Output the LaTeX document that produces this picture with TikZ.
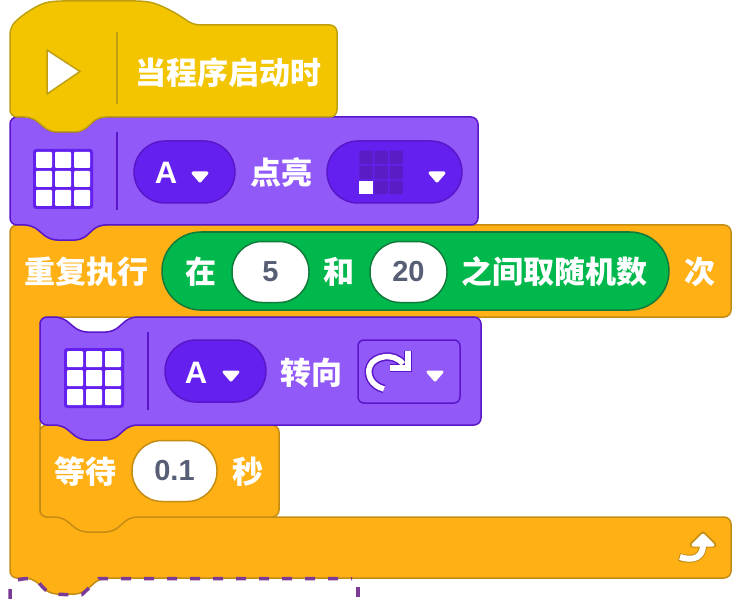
\documentclass[tikz,border=0pt]{standalone}
\usepackage{fontspec}
\setmainfont{Noto Sans CJK SC}
\newfontfamily\latinfont{Liberation Sans}
\definecolor{hatfill}{HTML}{F2C500}
\definecolor{hatedge}{HTML}{BFA010}
\definecolor{lookfill}{HTML}{9159F8}
\definecolor{lookedge}{HTML}{5A17C9}
\definecolor{pillfill}{HTML}{6420EE}
\definecolor{cellfill}{HTML}{5A1CC4}
\definecolor{ctrlfill}{HTML}{FFB015}
\definecolor{ctrledge}{HTML}{C48C12}
\definecolor{opfill}{HTML}{00B84C}
\definecolor{opedge}{HTML}{127A3A}
\definecolor{numtext}{HTML}{575E75}
\definecolor{ghost}{HTML}{7B3A96}

\begin{document}
\begin{tikzpicture}[x=1pt,y=-1pt,
        block/.style = {line width=1.5pt,rounded corners=7pt},
        hatblock/.style = {block,fill=hatfill,draw=hatedge},
        lookblock/.style = {block,fill=lookfill,draw=lookedge},
        ctrlblock/.style = {block,fill=ctrlfill,draw=ctrledge},
        word/.style = {text=white,inner sep=0pt,font=\fontsize{31}{31}\selectfont\bfseries},
        letter/.style = {text=white,inner sep=0pt,font=\fontsize{31}{31}\selectfont\latinfont\bfseries},
        pill/.style = {draw=lookedge,fill=pillfill,line width=1.5pt,rounded corners=31pt,minimum height=62pt,inner sep=0pt},
        slot/.style = {fill=white,line width=1.5pt,rounded corners=30pt,minimum height=61pt,inner sep=0pt,
            text=numtext,font=\fontsize{29}{29}\selectfont\latinfont\bfseries},
        rule/.style = {line width=1.2pt},
        caret/.style = {fill=white,draw=white,line width=3pt,line join=round},
        frame/.style = {fill=pillfill,rounded corners=3pt,minimum size=60pt,inner sep=0pt},
        cell/.style = {fill=white,minimum size=16pt,inner sep=0pt,rounded corners=1pt},
        ledcell/.style = {fill=cellfill,minimum size=13.5pt,inner sep=0pt,rounded corners=1pt}]
        \useasboundingbox (0,0) rectangle (753,599);

        % repeat block
        \draw[ctrlblock] (10,225) -- (32,225) -- (50,240) -- (82,240) -- (98,225) -- (731,225) -- (731,317) -- (40,317) -- (40,517) -- (731,517) -- (731,578) -- (100,578) -- (82,594) -- (50,594) -- (32,578) -- (10,578) -- cycle;
        \node[word] (repeat) at (86,272) {重复执行};
        \node[pill,draw=opedge,fill=opfill,rounded corners=39pt,minimum width=507pt,minimum height=78pt] (random) at (415.5,271) {};
        \node[word] (in) at (201,272) {在};
        \node[slot,draw=opedge,minimum width=77pt] (low) at (270.5,272) {5};
        \node[word] (and) at (339,272) {和};
        \node[slot,draw=opedge,minimum width=77pt] (high) at (408.5,272) {20};
        \node[word] (pick) at (554,272) {之间取随机数};
        \node[word] (times) at (700,272) {次};
        \draw[ctrledge,line width=8pt] (679,557) .. controls (695,562) and (703,556) .. (703,545);
        \draw[ctrledge,fill=ctrledge,line width=5pt,line join=round] (692,545) -- (703,534) -- (714,545) -- cycle;
        \draw[white,line width=6pt] (680,557) .. controls (695,562) and (703,556) .. (703,545);
        \draw[caret] (693,545) -- (703,535) -- (713,545) -- cycle;

        % drop target under the stack
        \draw[ghost,line width=3.5pt,dash pattern=on 10pt off 13pt] (10,599) -- (10,590) .. controls (10,582) and (16,578.5) .. (30,578.5) .. controls (38,578.5) and (40,586) .. (47,591) .. controls (52,595) and (56,594.5) .. (82,594.5) -- (99,578.5) -- (352,578.5);
        \draw[ghost,line width=3.5pt] (358,587) -- (358,597);

        % wait block
        \draw[ctrlblock] (40,425) -- (62,425) -- (80,440) -- (113,440) -- (130,425) -- (279,425) -- (279,517) -- (130,517) -- (113,532) -- (80,532) -- (62,517) -- (40,517) -- cycle;
        \node[word] (wait) at (85,472) {等待};
        \node[slot,draw=ctrledge,minimum width=85pt] (delay) at (174.5,471) {0.1};
        \node[word] (sec) at (248,472) {秒};

        % turn block
        \draw[lookblock] (40,317) -- (62,317) -- (80,332) -- (113,332) -- (130,317) -- (481,317) -- (481,425) -- (130,425) -- (113,440) -- (80,440) -- (62,425) -- (40,425) -- cycle;
        \node[frame] (gridb) at (94,378) {};
        \foreach \i in {-1,0,1} \foreach \j in {-1,0,1}
            \node[cell] at (94+\i*19,378+\j*19) {};
        \draw[rule,draw=lookedge] (148,332) -- (148,410);
        \node[pill,minimum width=101pt] (portb) at (215.5,371) {};
        \node[letter] (portbtext) at (196,373) {A};
        \draw[caret] (224,372) -- (238,372) -- (231,380) -- cycle;
        \node[word] (turn) at (311,373) {转向};
        \node[draw=lookedge,line width=1.5pt,rounded corners=6pt,minimum width=102pt,minimum height=63pt,inner sep=0pt] (dir) at (409,371.5) {};
        \draw[lookedge,line width=8.5pt] (384,389) .. controls (372,386) and (366,375) .. (370,366) .. controls (374,356) and (394,352) .. (403,364);
        \draw[lookedge,line width=8.5pt,line join=miter] (408,351) -- (408,368) -- (390,368);
        \draw[white,line width=5.5pt] (384,389) .. controls (372,386) and (366,375) .. (370,366) .. controls (374,356) and (394,352) .. (403,364);
        \draw[white,line width=5.5pt,line join=miter] (408,351) -- (408,368) -- (390,368);
        \draw[caret] (428,372) -- (442,372) -- (435,380) -- cycle;

        % light block
        \draw[lookblock] (10,117) -- (32,117) -- (50,132) -- (82,132) -- (98,117) -- (478,117) -- (478,225) -- (98,225) -- (82,240) -- (50,240) -- (32,225) -- (10,225) -- cycle;
        \node[frame] (grida) at (63,179) {};
        \foreach \i in {-1,0,1} \foreach \j in {-1,0,1}
            \node[cell] at (63+\i*19,179+\j*19) {};
        \draw[rule,draw=lookedge] (117,132) -- (117,210);
        \node[pill,minimum width=101pt] (porta) at (184.5,172) {};
        \node[letter] (portatext) at (166,173) {A};
        \draw[caret] (193,173) -- (207,173) -- (200,181) -- cycle;
        \node[word] (light) at (281,173) {点亮};
        \node[pill,minimum width=135pt] (pixel) at (394.5,172) {};
        \foreach \i in {0,1,2} \foreach \j in {0,1,2}
            \node[ledcell] at (366+\i*15,157.5+\j*15) {};
        \node[fill=white,minimum size=13.5pt,inner sep=0pt] (lit) at (366,187.5) {};
        \draw[caret] (430,173) -- (444,173) -- (437,181) -- cycle;

        % hat block
        \draw[hatblock] (10,27) .. controls (22,15) and (38,4) .. (55,1) -- (143,1) .. controls (160,4) and (178,14) .. (193,25) -- (337,25) -- (337,117) -- (98,117) -- (82,132) -- (50,132) -- (32,117) -- (10,117) -- cycle;
        \draw[hatedge,fill=white,line width=1.5pt] (47,50) -- (80,71.5) -- (47,94) -- cycle;
        \draw[rule,draw=hatedge] (117,32) -- (117,104);
        \node[word] (start) at (228,73) {当程序启动时};
\end{tikzpicture}
\end{document}
